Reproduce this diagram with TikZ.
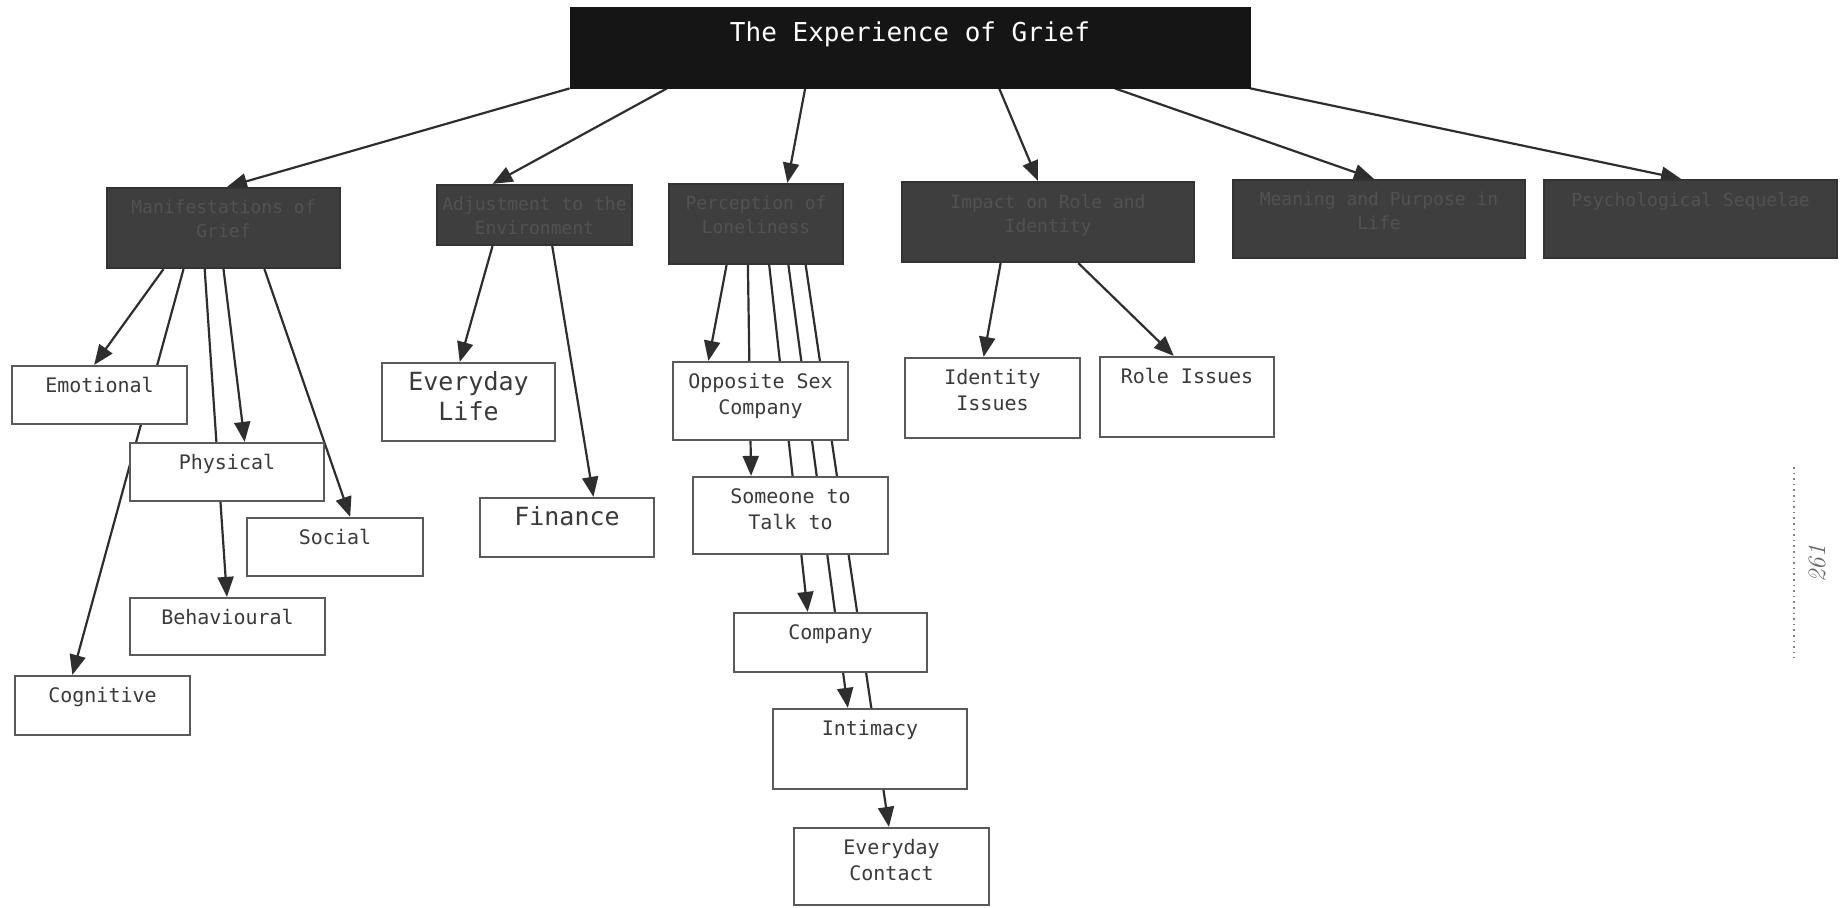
\documentclass[tikz,border=0pt]{standalone}
\usepackage{fontspec}
\setmonofont{DejaVu Sans Mono}
\usetikzlibrary{arrows.meta,calc}

\definecolor{linec}{HTML}{2E2E2E}
\definecolor{boxline}{HTML}{5A5A5A}
\definecolor{txtc}{HTML}{3A3A3A}
\definecolor{darkfill}{HTML}{3E3E3E}
\definecolor{darkline}{HTML}{333333}
\definecolor{darktxt}{HTML}{525252}
\definecolor{titlefill}{HTML}{151515}

\pgfdeclarelayer{bg}
\pgfsetlayers{bg,main}

\tikzset{
  x=0.5pt, y=-0.5pt,
  wbox/.style={draw=boxline, line width=1.1pt, fill=white, inner sep=0pt},
  dbox/.style={draw=darkline, line width=1.1pt, fill=darkfill, inner sep=0pt},
  tbox/.style={draw=titlefill, fill=titlefill, inner sep=0pt},
  wtxt/.style={anchor=north, inner sep=0pt, align=center, text=txtc,
    font=\ttfamily\fontsize{10}{13}\selectfont},
  btxt/.style={anchor=north, inner sep=0pt, align=center, text=txtc,
    font=\ttfamily\fontsize{12.5}{15.3}\selectfont},
  dtxt/.style={anchor=north, inner sep=0pt, align=center, text=darktxt,
    font=\ttfamily\fontsize{9}{12}\selectfont},
  ttxt/.style={anchor=north, inner sep=0pt, text=white,
    font=\ttfamily\fontsize{13}{15}\selectfont},
  conn/.style={draw=linec, line width=1.1pt, -{Triangle[length=10pt,width=8pt]}},
}

% box with its caption set near the top edge
% #1 name, #2 x, #3 y, #4 width, #5 height, #6 box style, #7 text style, #8 drop, #9 text
\newcommand\capbox[9]{%
  \node[#6, minimum width=#4*0.5pt, minimum height=#5*0.5pt] (#1) at (#2,#3) {};
  \node[#7] (#1t) at ([yshift=-#8]#1.north) {#9};}

% arrow from a point along the bottom edge of one box to a point along the top edge of another
\newcommand\link[4]{%
  \draw[conn] ($(#1.south west)!#2!(#1.south east)$) -- ($(#3.north west)!#4!(#3.north east)$);}

\begin{document}
\begin{tikzpicture}
\useasboundingbox (0,0) rectangle (1841,908);

% title
\capbox{top}{910}{47.5}{680}{81}{tbox}{ttxt}{7.5pt}{The Experience of Grief}

% second level
\capbox{mani}{223.5}{228}{233}{80}{dbox}{dtxt}{6.5pt}{Manifestations of\\Grief}
\capbox{adju}{534.5}{215}{195}{60}{dbox}{dtxt}{6.5pt}{Adjustment to the\\Environment}
\capbox{perc}{756}{224}{174}{80}{dbox}{dtxt}{6.5pt}{Perception of\\Loneliness}
\capbox{role}{1048}{222}{292}{80}{dbox}{dtxt}{6.5pt}{Impact on Role and\\Identity}
\capbox{mean}{1379}{219}{292}{78}{dbox}{dtxt}{6.5pt}{Meaning and Purpose in\\Life}
\capbox{psyc}{1690.5}{219}{293}{78}{dbox}{dtxt}{6.5pt}{Psychological Sequelae}

% manifestations
\capbox{emo}{99.5}{395}{175}{58}{wbox}{wtxt}{6pt}{Emotional}
\capbox{phy}{227}{472}{194}{58}{wbox}{wtxt}{6pt}{Physical}
\capbox{soc}{335}{547}{176}{58}{wbox}{wtxt}{6pt}{Social}
\capbox{beh}{227.5}{626.5}{195}{57}{wbox}{wtxt}{6pt}{Behavioural}
\capbox{cog}{102.5}{705.5}{175}{59}{wbox}{wtxt}{6pt}{Cognitive}

% adjustment
\capbox{life}{468.5}{402}{173}{78}{wbox}{btxt}{4.5pt}{Everyday\\Life}
\capbox{fin}{567}{527.5}{174}{59}{wbox}{btxt}{4.5pt}{Finance}

% loneliness
\capbox{opp}{760.5}{401}{175}{78}{wbox}{wtxt}{6pt}{Opposite Sex\\Company}
\capbox{talk}{790.5}{515.5}{195}{77}{wbox}{wtxt}{6pt}{Someone to\\Talk to}
\capbox{comp}{830.5}{642.5}{193}{59}{wbox}{wtxt}{6pt}{Company}
\capbox{inti}{870}{749}{194}{80}{wbox}{wtxt}{6pt}{Intimacy}
\capbox{cont}{891.5}{866.5}{195}{77}{wbox}{wtxt}{6pt}{Everyday\\Contact}

% role and identity
\capbox{iden}{992.5}{398}{175}{80}{wbox}{wtxt}{6pt}{Identity\\Issues}
\capbox{rolei}{1187}{397}{174}{80}{wbox}{wtxt}{6pt}{Role Issues}

\begin{pgfonlayer}{bg}
  \link{top}{0.0}{mani}{0.515}
  \link{top}{0.143}{adju}{0.287}
  \link{top}{0.346}{perc}{0.678}
  \link{top}{0.631}{role}{0.466}
  \link{top}{0.801}{mean}{0.483}
  \link{top}{1.0}{psyc}{0.468}

  \link{mani}{0.245}{emo}{0.47}
  \link{mani}{0.33}{cog}{0.33}
  \link{mani}{0.42}{beh}{0.497}
  \link{mani}{0.50}{phy}{0.59}
  \link{mani}{0.674}{soc}{0.585}

  \link{adju}{0.287}{life}{0.45}
  \link{adju}{0.59}{fin}{0.65}

  \link{perc}{0.333}{opp}{0.206}
  \link{perc}{0.454}{talk}{0.30}
  \link{perc}{0.575}{comp}{0.383}
  \link{perc}{0.684}{inti}{0.387}
  \link{perc}{0.782}{cont}{0.487}

  \link{role}{0.339}{iden}{0.45}
  \link{role}{0.603}{rolei}{0.425}
\end{pgfonlayer}

% folio in the margin
\coordinate (rulea) at (1794,467);
\coordinate (ruleb) at (1794,658);
\draw[gray, line width=0.8pt, dotted] (rulea) -- (ruleb);
\node[rotate=90, text=black!60, font=\itshape\fontsize{12.5}{14}\selectfont] (folio) at (1817,564) {261};
\end{tikzpicture}
\end{document}
